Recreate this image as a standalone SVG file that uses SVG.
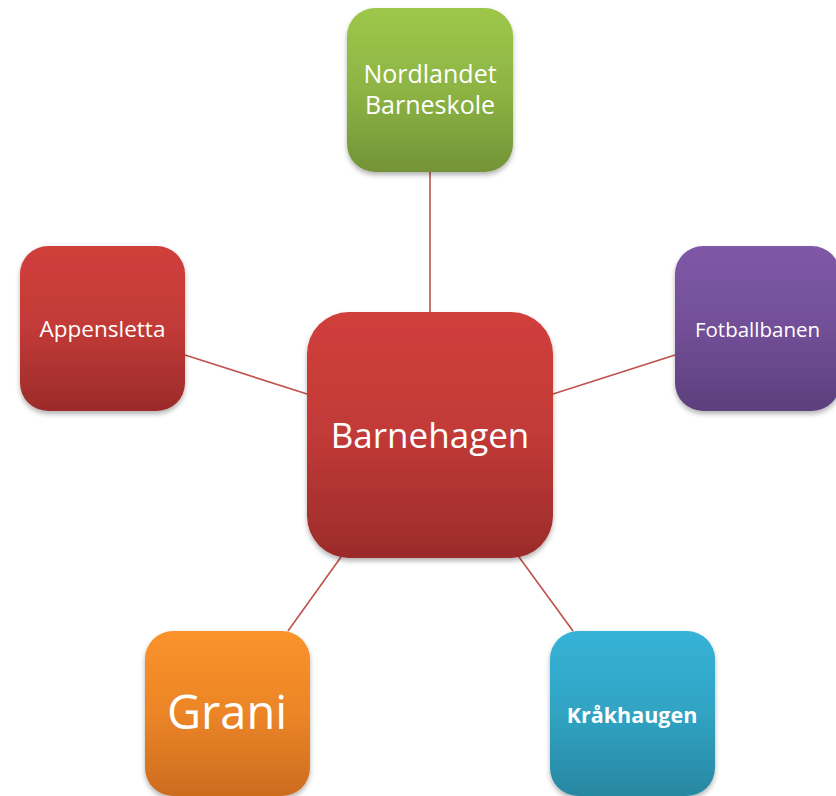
<svg xmlns="http://www.w3.org/2000/svg" width="836" height="796" viewBox="0 0 836 796">
<defs>
<linearGradient id="gRed" x1="0" y1="0" x2="0" y2="1"><stop offset="0" stop-color="#d03f3b"/><stop offset="0.5" stop-color="#c13a37"/><stop offset="1" stop-color="#9b2b2a"/></linearGradient>
<linearGradient id="gGreen" x1="0" y1="0" x2="0" y2="1"><stop offset="0" stop-color="#9dc74a"/><stop offset="0.5" stop-color="#8db444"/><stop offset="1" stop-color="#739337"/></linearGradient>
<linearGradient id="gPurple" x1="0" y1="0" x2="0" y2="1"><stop offset="0" stop-color="#7f58a7"/><stop offset="0.5" stop-color="#724f97"/><stop offset="1" stop-color="#5c3f7c"/></linearGradient>
<linearGradient id="gOrange" x1="0" y1="0" x2="0" y2="1"><stop offset="0" stop-color="#fb922a"/><stop offset="0.5" stop-color="#eb8527"/><stop offset="1" stop-color="#cd6c1f"/></linearGradient>
<linearGradient id="gBlue" x1="0" y1="0" x2="0" y2="1"><stop offset="0" stop-color="#35b3d7"/><stop offset="0.5" stop-color="#30a3c3"/><stop offset="1" stop-color="#2887a2"/></linearGradient>
<filter id="sh" x="-10%" y="-10%" width="120%" height="125%"><feDropShadow dx="0" dy="3" stdDeviation="2.5" flood-color="#000" flood-opacity="0.3"/></filter>
<style>
.box{filter:url(#sh)}
.t{fill:#fff;font-family:"Open Sans","Noto Sans","DejaVu Sans",sans-serif;text-anchor:middle}
.c{stroke:#c0504d;stroke-width:1.6;fill:none}
</style>
</defs>
<g id="connectors">
<line class="c" x1="430" y1="172" x2="430" y2="312"/>
<line class="c" x1="185" y1="355" x2="307" y2="394"/>
<line class="c" x1="553" y1="394" x2="675" y2="355"/>
<line class="c" x1="341" y1="557" x2="288" y2="631"/>
<line class="c" x1="519" y1="557" x2="573" y2="631"/>
</g>
<g id="nordlandet">
<rect class="box" x="347" y="8" width="166" height="164" rx="28" fill="url(#gGreen)"/>
<text class="t" x="430" y="83" font-size="25">Nordlandet</text>
<text class="t" x="430" y="114" font-size="25">Barneskole</text>
</g>
<g id="appensletta">
<rect class="box" x="20" y="246" width="165" height="165" rx="28" fill="url(#gRed)"/>
<text class="t" x="102.5" y="337" font-size="22.5">Appensletta</text>
</g>
<g id="fotballbanen">
<rect class="box" x="675" y="246" width="165" height="165" rx="28" fill="url(#gPurple)"/>
<text class="t" x="757.5" y="337" font-size="20.5">Fotballbanen</text>
</g>
<g id="barnehagen">
<rect class="box" x="307" y="312" width="246" height="246" rx="42" fill="url(#gRed)"/>
<text class="t" x="430" y="448" font-size="35">Barnehagen</text>
</g>
<g id="grani">
<rect class="box" x="145" y="631" width="165" height="165" rx="28" fill="url(#gOrange)"/>
<text class="t" x="227" y="729" font-size="47">Grani</text>
</g>
<g id="kraakhaugen">
<rect class="box" x="550" y="631" width="165" height="165" rx="28" fill="url(#gBlue)"/>
<text class="t" x="632" y="723" font-size="21.5" font-weight="bold">Kråkhaugen</text>
</g>
</svg>
